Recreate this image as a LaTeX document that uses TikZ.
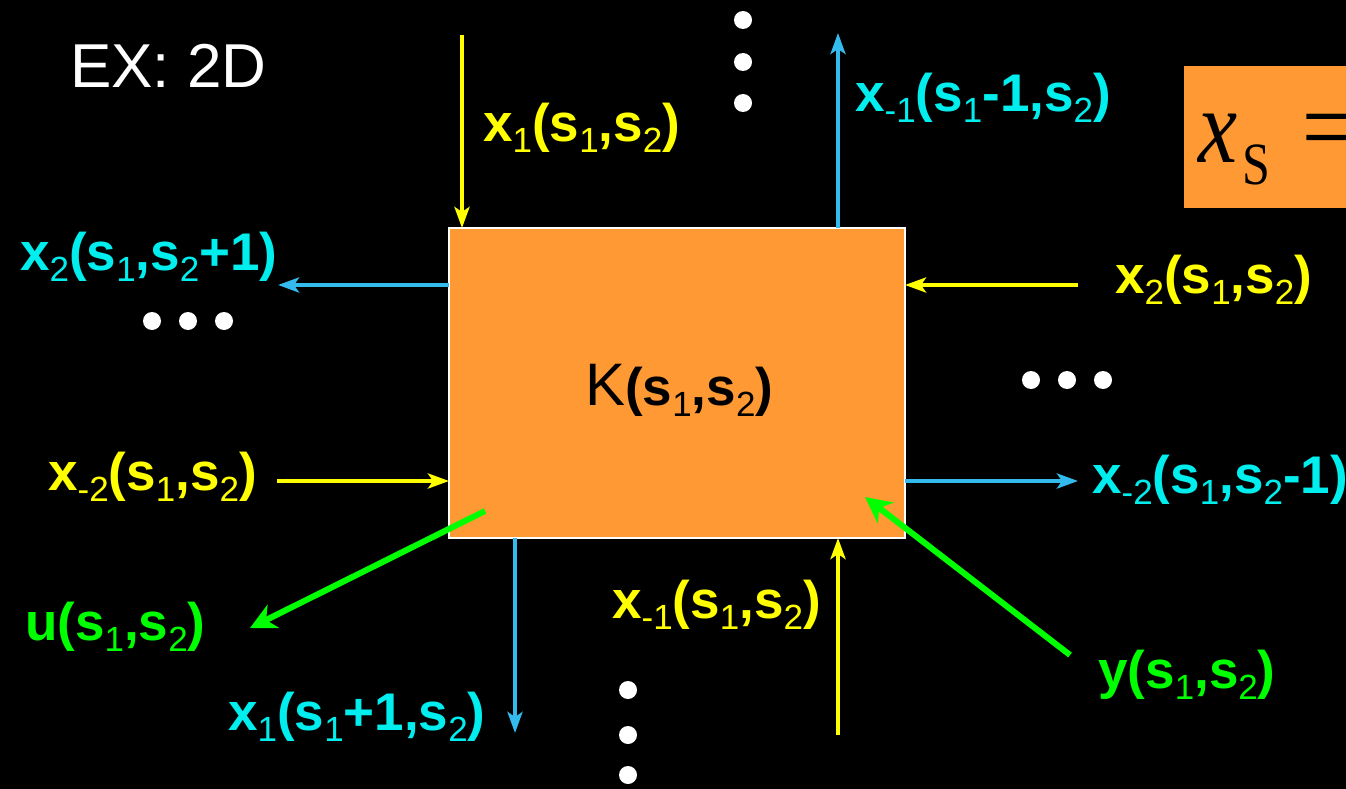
\documentclass[tikz,border=0pt]{standalone}
\usepackage{graphicx}
\usepackage{fontspec}
\newfontfamily\arial{Liberation Sans}
\newfontfamily\tnrfont{Liberation Serif}
\usetikzlibrary{arrows.meta}
\definecolor{kor}{HTML}{FF9933}
\definecolor{kyel}{HTML}{FFFF00}
\definecolor{kcy}{HTML}{00EEEE}
\definecolor{kbl}{HTML}{33BBEE}
\definecolor{kgr}{HTML}{00FF00}
\newcommand\dn[1]{\raisebox{-11pt}{\fontsize{35}{35}\selectfont\mdseries #1}}
\begin{document}
\begin{tikzpicture}[x=1pt,y=-1pt,
  lab/.style={inner sep=0pt, anchor=base west, font=\arial\fontsize{53}{53}\selectfont\bfseries},
  thinarr/.style={line width=4.5pt, -{Stealth[length=21pt,width=15pt,inset=5pt]}},
  thickarr/.style={line width=6pt, -{Stealth[length=26pt,width=26pt,inset=8pt]}},
  dot/.style={fill=white}]
\fill[black] (0,0) rectangle (1346,789);
\useasboundingbox (0,0) rectangle (1346,789);
\clip (0,0) rectangle (1346,789);

% main box
\node[draw=white, line width=2pt, fill=kor, minimum width=456pt, minimum height=310pt, inner sep=0pt] (box) at (677,383) {};
\node[inner sep=0pt, anchor=base west, font=\arial] (ktext) at (585,405)
  {\fontsize{60}{60}\selectfont K{\fontsize{53}{53}\selectfont\bfseries(s\dn{1},s\dn{2})}};

% top-right formula box
\fill[kor] (1184,66) rectangle (1360,208);
\node[inner sep=0pt, anchor=base west, font=\tnrfont] (eq) at (1198,162)
  {\scalebox{1}[1.2]{\fontsize{88}{88}\selectfont\textit{x}\hspace{5pt}\raisebox{-19pt}{\fontsize{50}{50}\selectfont S}\hspace{32pt}=}};

% title
\node[inner sep=0pt, anchor=base west, text=white, font=\arial\fontsize{62}{62}\selectfont] (title) at (70,88) {EX: 2D};

% coordinates
\coordinate (tyS) at (462,35);   \coordinate (tyE) at (462,228);
\coordinate (tbS) at (838,228);  \coordinate (tbE) at (838,33);
\coordinate (lbS) at (449,285);  \coordinate (lbE) at (278,285);
\coordinate (ryS) at (1078,285); \coordinate (ryE) at (905,285);
\coordinate (lyS) at (277,481);  \coordinate (lyE) at (449,481);
\coordinate (rbS) at (905,481);  \coordinate (rbE) at (1078,481);
\coordinate (bbS) at (515,538);  \coordinate (bbE) at (515,733);
\coordinate (byS) at (838,735);  \coordinate (byE) at (838,538);
\coordinate (guS) at (485,511);  \coordinate (guE) at (250,628);
\coordinate (gyS) at (1070,655); \coordinate (gyE) at (865,497);

\draw[thinarr, kyel] (tyS) -- (tyE);
\draw[thinarr, kbl] (tbS) -- (tbE);
\draw[thinarr, kbl] (lbS) -- (lbE);
\draw[thinarr, kyel] (ryS) -- (ryE);
\draw[thinarr, kyel] (lyS) -- (lyE);
\draw[thinarr, kbl] (rbS) -- (rbE);
\draw[thinarr, kbl] (bbS) -- (bbE);
\draw[thinarr, kyel] (byS) -- (byE);
\draw[thickarr, kgr] (guS) -- (guE);
\draw[thickarr, kgr] (gyS) -- (gyE);

% labels
\node[lab, text=kyel] (l1) at (483,142) {x\dn{1}(s\dn{1},s\dn{2})};
\node[lab, text=kcy] (l2) at (855,112) {x\dn{-1}(s\dn{1}-1,s\dn{2})};
\node[lab, text=kcy] (l3) at (20,270) {x\dn{2}(s\dn{1},s\dn{2}+1)};
\node[lab, text=kyel] (l4) at (1115,293) {x\dn{2}(s\dn{1},s\dn{2})};
\node[lab, text=kyel] (l5) at (48,490) {x\dn{-2}(s\dn{1},s\dn{2})};
\node[lab, text=kcy] (l6) at (1092,493) {x\dn{-2}(s\dn{1},s\dn{2}-1)};
\node[lab, text=kgr] (l7) at (25,640) {u(s\dn{1},s\dn{2})};
\node[lab, text=kyel] (l8) at (612,618) {x\dn{-1}(s\dn{1},s\dn{2})};
\node[lab, text=kcy] (l9) at (228,730) {x\dn{1}(s\dn{1}+1,s\dn{2})};
\node[lab, text=kgr] (l10) at (1098,688) {y(s\dn{1},s\dn{2})};

% dots
\foreach \y in {20,62,103} \fill[dot] (743,\y) circle (9pt);
\foreach \x in {152,188,224} \fill[dot] (\x,321) circle (9pt);
\foreach \x in {1031,1067,1103} \fill[dot] (\x,380) circle (9pt);
\foreach \y in {690,735,775} \fill[dot] (628,\y) circle (9pt);
\end{tikzpicture}
\end{document}
